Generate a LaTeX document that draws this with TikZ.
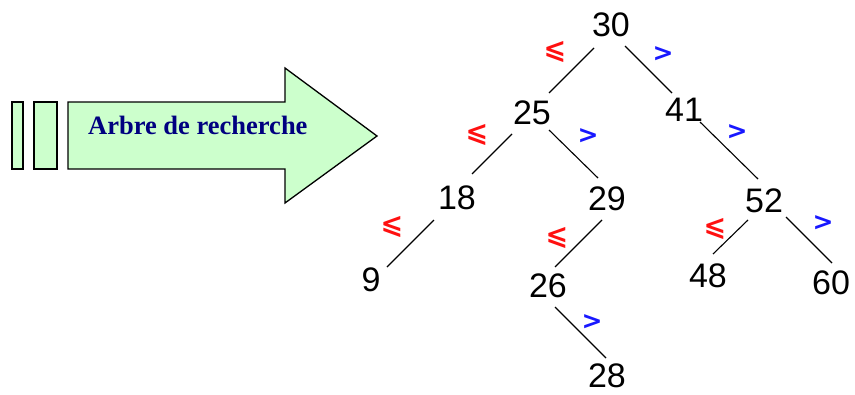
\documentclass[tikz,border=0pt]{standalone}
\usepackage{fontspec}
\setmainfont{Liberation Serif}
\newfontfamily\digitfont{Liberation Sans}
\newfontfamily\symfont{DejaVu Sans}
\definecolor{arrowfill}{HTML}{CCFFCC}
\definecolor{navytext}{HTML}{000080}
\definecolor{lered}{HTML}{FF1010}
\definecolor{gtblue}{HTML}{1818FF}
\begin{document}
\begin{tikzpicture}[x=1pt,y=-1pt,
  key/.style={font=\digitfont\fontsize{34}{34}\selectfont, inner sep=0pt},
  edge/.style={line width=1.1pt, black},
  lesign/.style={text=lered, font=\symfont\bfseries\fontsize{27}{27}\selectfont, inner sep=0pt},
  gtsign/.style={text=gtblue, font=\symfont\bfseries\fontsize{25}{25}\selectfont, inner sep=0pt},
  greenbox/.style={draw=black, line width=1.3pt, fill=arrowfill}]
\useasboundingbox (0,0) rectangle (855,394);

% left arrow
\draw[greenbox] (12,102) rectangle (23,169);
\draw[greenbox] (34,102) rectangle (57,169);
\draw[greenbox, line join=miter] (68,102) -- (285,102) -- (285,68) -- (377,136) -- (285,203) -- (285,169) -- (68,169) -- cycle;
\node[text=navytext, font=\bfseries\fontsize{26.5}{26.5}\selectfont, anchor=base west, inner sep=0pt] (title) at (88,134) {Arbre de recherche};

% keys
\node[key] (n30) at (611,25) {30};
\node[key] (n25) at (532,113) {25};
\node[key] (n41) at (684,110) {41};
\node[key] (n18) at (457,198) {18};
\node[key] (n29) at (607,199) {29};
\node[key] (n52) at (764,201) {52};
\node[key] (n9)  at (371,280) {9};
\node[key] (n26) at (548,286) {26};
\node[key] (n48) at (708,276) {48};
\node[key] (n60) at (831,283) {60};
\node[key] (n28) at (607,376) {28};

% edges
\draw[edge] ([shift={(-17,23)}]n30.center) -- ([shift={(17,-20)}]n25.center);
\draw[edge] ([shift={(14,21)}]n30.center) -- ([shift={(-12,-17)}]n41.center);
\draw[edge] ([shift={(-20,21)}]n25.center) -- ([shift={(15,-24)}]n18.center);
\draw[edge] ([shift={(17,17)}]n25.center) -- ([shift={(-9,-21)}]n29.center);
\draw[edge] ([shift={(16,12)}]n41.center) -- ([shift={(-6,-22)}]n52.center);
\draw[edge] ([shift={(-16,19)}]n52.center) -- ([shift={(5,-22)}]n48.center);
\draw[edge] ([shift={(22,16)}]n52.center) -- ([shift={(1,-20)}]n60.center);
\draw[edge] ([shift={(-23,22)}]n18.center) -- ([shift={(16,-13)}]n9.center);
\draw[edge] ([shift={(-5,21)}]n29.center) -- ([shift={(7,-19)}]n26.center);
\draw[edge] ([shift={(7,21)}]n26.center) -- ([shift={(-1,-18)}]n28.center);

% comparison signs
\node[lesign] (s1) at (555,52) {⩽};
\node[gtsign] (s2) at (663,54) {>};
\node[lesign] (s3) at (477,135) {⩽};
\node[gtsign] (s4) at (588,136) {>};
\node[gtsign] (s5) at (737,132) {>};
\node[lesign] (s6) at (715,229) {⩽};
\node[gtsign] (s7) at (823,223) {>};
\node[lesign] (s8) at (392,227) {⩽};
\node[lesign] (s9) at (557,238) {⩽};
\node[gtsign] (s10) at (592,322) {>};
\end{tikzpicture}
\end{document}
